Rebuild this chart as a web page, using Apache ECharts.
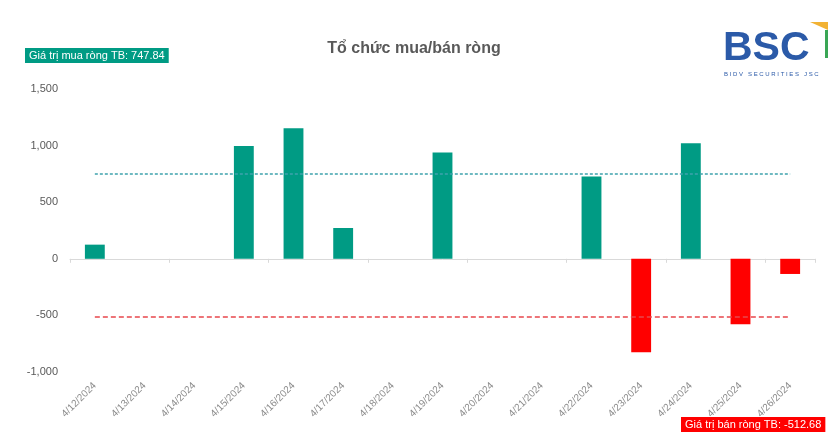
<!DOCTYPE html>
<html>
<head>
<meta charset="utf-8">
<script src="https://cdn.jsdelivr.net/npm/echarts@6/dist/echarts.min.js"></script>
<style>
  html, body { margin: 0; padding: 0; background: #fff; }
  #chart { width: 828px; height: 437px; }
</style>
</head>
<body>
<div id="chart"></div>
<script>
// Net buy/sell by institutions (ty dong)
const dates = ['4/12/2024', '4/13/2024', '4/14/2024', '4/15/2024', '4/16/2024', '4/17/2024', '4/18/2024',
  '4/19/2024', '4/20/2024', '4/21/2024', '4/22/2024', '4/23/2024', '4/24/2024', '4/25/2024', '4/26/2024'];
const netValues = [125, 0, 0, 997, 1153, 272, 0, 940, 0, 0, 728, -826, 1020, -578, -134];
const yTicks = [-1000, -500, 0, 500, 1000, 1500];

const AVG_BUY = 747.84;
const AVG_SELL = -512.68;

const GREEN = '#009b84';
const RED = '#ff0000';
const FONT = 'Liberation Sans';

const chart = echarts.init(document.getElementById('chart'));

// average line drawn as a markLine on an empty helper series
function avgLine(value, color, dash) {
  return {
    type: 'line',
    xAxisIndex: 0,
    data: [],
    color: color,
    markLine: {
      symbol: 'none',
      silent: true,
      label: { show: false },
      lineStyle: { color: color, type: dash, width: 1.5, opacity: 1 },
      data: [[
        { coord: [dates[0], value] },
        { coord: [dates[dates.length - 1], value] }
      ]]
    }
  };
}

const option = {
  backgroundColor: '#fff',
  animation: false,
  textStyle: { fontFamily: FONT },
  title: {
    text: 'Tổ chức mua/bán ròng',
    left: 'center',
    top: 36,
    textStyle: { fontSize: 16, fontWeight: 'bold', color: '#595959', fontFamily: FONT }
  },
  grid: { left: 70, right: 13, top: 89, bottom: 65 },
  xAxis: [
    {
      // labels sit at the bottom of the plot
      type: 'category',
      data: dates,
      position: 'bottom',
      axisLine: { show: false, onZero: false },
      axisTick: { show: false },
      axisLabel: { rotate: 45, fontSize: 10, color: '#8c8c8c', margin: 12, interval: 0 }
    },
    {
      // axis line and ticks through zero
      type: 'category',
      data: dates,
      position: 'bottom',
      axisLine: { show: true, onZero: true, lineStyle: { color: '#d9d9d9', width: 1 } },
      axisTick: { show: true, length: 4, lineStyle: { color: '#d9d9d9' } },
      axisLabel: { show: false }
    }
  ],
  yAxis: {
    type: 'value',
    min: yTicks[0],
    max: yTicks[yTicks.length - 1],
    interval: 500,
    axisLine: { show: false },
    axisTick: { show: false },
    splitLine: { show: false },
    axisLabel: {
      fontSize: 11,
      color: '#595959',
      margin: 12,
      formatter: v => v.toLocaleString('en-US')
    }
  },
  series: [
    {
      type: 'bar',
      xAxisIndex: 0,
      data: netValues,
      barWidth: '40%',
      itemStyle: {
        color: p => (p.value >= 0 ? GREEN : RED)
      }
    },
    avgLine(AVG_BUY, '#3fa3ad', [3, 2]),
    avgLine(AVG_SELL, '#e8474c', [5, 3])
  ],
  graphic: [
    {
      type: 'text',
      left: 25,
      top: 48,
      style: {
        text: 'Giá trị mua ròng TB: ' + AVG_BUY.toFixed(2),
        fill: '#fff',
        font: '11px "' + FONT + '"',
        backgroundColor: GREEN,
        padding: [2, 4, 2, 4]
      }
    },
    {
      type: 'text',
      left: 681,
      top: 417,
      style: {
        text: 'Giá trị bán ròng TB: ' + AVG_SELL.toFixed(2),
        fill: '#fff',
        font: '11px "' + FONT + '"',
        backgroundColor: RED,
        padding: [2, 4, 2, 4]
      }
    },
    // BSC logo
    {
      type: 'text',
      left: 723,
      top: 28,
      style: {
        text: 'BSC',
        fill: '#2b5aa8',
        font: 'bold 41px "Liberation Sans"'
      }
    },
    {
      type: 'text',
      left: 724,
      top: 71,
      style: {
        text: 'B I D V   S E C U R I T I E S   J S C',
        fill: '#2b5aa8',
        font: '6px "Liberation Sans"'
      }
    },
    {
      type: 'polygon',
      shape: { points: [[810, 22], [828, 22], [828, 30]] },
      style: { fill: '#f2b233' }
    },
    {
      type: 'rect',
      shape: { x: 825, y: 30, width: 3, height: 28 },
      style: { fill: '#3aa655' }
    }
  ]
};

chart.setOption(option);
</script>
</body>
</html>
